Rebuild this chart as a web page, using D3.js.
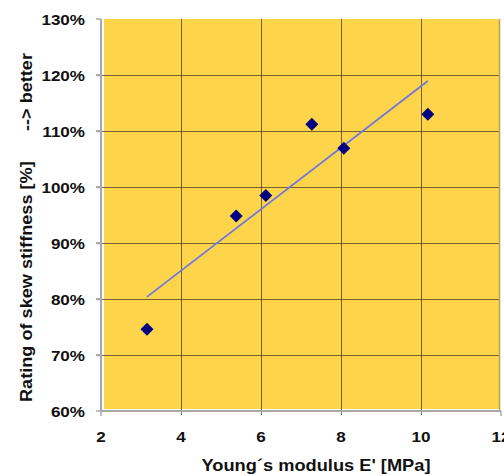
<!DOCTYPE html>
<html><head><meta charset="utf-8">
<script src="https://cdn.jsdelivr.net/npm/d3@7"></script>
<style>
html,body{margin:0;padding:0;background:#fff;}
svg{display:block;}
text{font-family:"Liberation Sans",Arial,sans-serif;font-weight:bold;fill:#111;}
</style></head>
<body>
<svg id="c" width="504" height="475"></svg>
<script>
const modulus = [3.15, 5.38, 6.12, 7.27, 8.07, 10.17];
const rating  = [74.6, 94.8, 98.5, 111.2, 106.9, 113.0];
const xTicks = [2, 4, 6, 8, 10, 12];
const yTicks = [60, 70, 80, 90, 100, 110, 120, 130];
const xTitle = "Young\u00b4s modulus E' [MPa]";
const yTitle = "Rating of skew stiffness [%]      --> better";

const svg = d3.select("#c");
const x = d3.scaleLinear().domain([2, 12]).range([101, 501]);
const y = d3.scaleLinear().domain([60, 130]).range([411, 19]);

// plot background
svg.append("rect").attr("x", 104).attr("y", 19).attr("width", 395).attr("height", 390)
  .attr("fill", "#FDD44A");

// grid
svg.append("g").selectAll("line").data(yTicks.slice(1, -1)).join("line")
  .attr("x1", 96).attr("x2", 499).attr("y1", d => y(d) + 0.5).attr("y2", d => y(d) + 0.5)
  .attr("stroke", "#3a3220").attr("stroke-opacity", 0.7).attr("stroke-width", 1);
svg.append("g").selectAll("line").data(xTicks.slice(1, -1)).join("line")
  .attr("x1", d => x(d) + 0.5).attr("x2", d => x(d) + 0.5).attr("y1", 19).attr("y2", 415)
  .attr("stroke", "#3a3220").attr("stroke-opacity", 0.7).attr("stroke-width", 1);

// right edge
svg.append("line").attr("x1", 499.5).attr("x2", 499.5).attr("y1", 19).attr("y2", 411)
  .attr("stroke", "#b8a050").attr("stroke-width", 1.5);
// axes
svg.append("line").attr("x1", 101).attr("x2", 101).attr("y1", 19).attr("y2", 412)
  .attr("stroke", "#a8a8a8").attr("stroke-width", 2);
svg.append("line").attr("x1", 100).attr("x2", 501).attr("y1", 411).attr("y2", 411)
  .attr("stroke", "#a8a8a8").attr("stroke-width", 2);
// y ticks
svg.append("g").selectAll("line").data(yTicks).join("line")
  .attr("x1", 96).attr("x2", 101).attr("y1", d => y(d)).attr("y2", d => y(d))
  .attr("stroke", "#a8a8a8").attr("stroke-width", 1.5);
svg.append("g").selectAll("line").data([2, 12]).join("line")
  .attr("x1", d => x(d)).attr("x2", d => x(d)).attr("y1", 411).attr("y2", 416)
  .attr("stroke", "#a8a8a8").attr("stroke-width", 1.5);

// tick labels
svg.append("g").selectAll("text").data(yTicks).join("text")
  .attr("transform", d => `translate(85,${y(d) + 5.5}) scale(1.1,1)`)
  .attr("text-anchor", "end")
  .attr("font-size", 15.5).text(d => d + "%");
svg.append("g").selectAll("text").data(xTicks).join("text")
  .attr("transform", d => `translate(${x(d)},442) scale(1.1,1)`)
  .attr("text-anchor", "middle")
  .attr("font-size", 15.5).text(d => d);

// titles
svg.append("text").attr("x", 316).attr("y", 471).attr("text-anchor", "middle")
  .attr("font-size", 16.5).attr("textLength", 229).attr("lengthAdjust", "spacingAndGlyphs")
  .text(xTitle);
svg.append("text").attr("transform", "translate(32,227.5) rotate(-90)")
  .attr("text-anchor", "middle").attr("font-size", 16.5)
  .attr("textLength", 349).attr("lengthAdjust", "spacingAndGlyphs")
  .style("white-space", "pre").text(yTitle);

// trend line (least squares)
const mx = d3.mean(modulus), my = d3.mean(rating);
const slope = d3.sum(modulus, (v, i) => (v - mx) * (rating[i] - my)) / d3.sum(modulus, v => (v - mx) ** 2);
const icpt = my - slope * mx;
const ext = d3.extent(modulus);
svg.append("line")
  .attr("x1", x(ext[0])).attr("y1", y(icpt + slope * ext[0]))
  .attr("x2", x(ext[1])).attr("y2", y(icpt + slope * ext[1]))
  .attr("stroke", "#6f78e0").attr("stroke-width", 1.8);

// points
svg.append("g").selectAll("path").data(modulus).join("path")
  .attr("transform", (d, i) => `translate(${x(d)},${y(rating[i])})`)
  .attr("d", "M0,-6.5L6.5,0L0,6.5L-6.5,0Z")
  .attr("fill", "#000080");
</script>
</body></html>
